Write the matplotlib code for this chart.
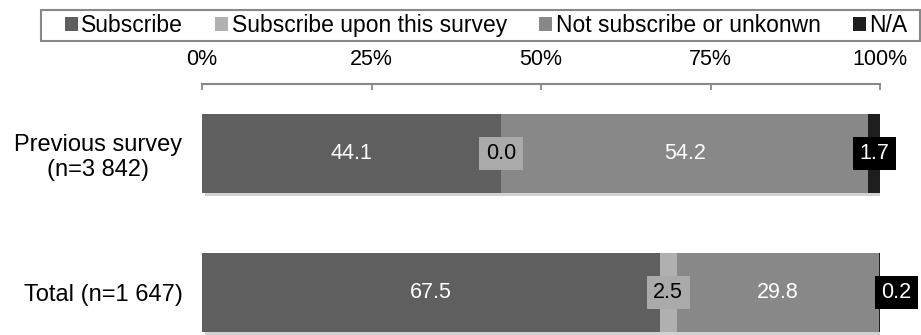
import matplotlib.pyplot as plt
import matplotlib.patheffects as pe
from matplotlib.patches import Rectangle
import numpy as np

plt.rcParams['font.family'] = ['Liberation Sans', 'DejaVu Sans']

groups = ["Total (n=1 647)", "Previous survey\n(n=3 842)"]
series = ["Subscribe", "Subscribe upon this survey", "Not subscribe or unkonwn", "N/A"]
subscribe = [67.5, 44.1]
upon_survey = [2.5, 0.0]
not_subscribe = [29.8, 54.2]
na = [0.2, 1.7]
colors = ["#5f5f5f", "#b0b0b0", "#888888", "#1e1e1e"]

W, H = 921, 335
fig = plt.figure(figsize=(W / 100, H / 100), dpi=100)
ax = fig.add_axes([202 / W, 0, 678 / W, 251 / H])

y = np.arange(len(groups))
left = np.zeros(len(groups))
shadow = [pe.SimplePatchShadow(offset=(2, -2), shadow_rgbFace="#000000", alpha=0.18), pe.Normal()]
fs = 15.5

bars = []
for name, vals, col in zip(series, [subscribe, upon_survey, not_subscribe, na], colors):
    b = ax.barh(y, vals, left=left, height=0.568, color=col, label=name,
                edgecolor="none", path_effects=shadow)
    bars.append(b)
    for i, v in enumerate(vals):
        cx = left[i] + v / 2
        if name == "Subscribe" or name == "Not subscribe or unkonwn":
            ax.text(cx, y[i], f"{v:.1f}", ha="center", va="center", color="white", fontsize=fs)
        elif name == "Subscribe upon this survey":
            ax.text(cx, y[i], f"{v:.1f}", ha="center", va="center", color="black", fontsize=fs,
                    bbox=dict(boxstyle="square,pad=0.3", fc="#aaaaaa", ec="none"))
        else:
            # tiny segment: push the label just past the bar end
            dx = 0 if v >= 1 else 17
            ax.annotate(f"{v:.1f}", xy=(cx, y[i]), xytext=(dx, 0), textcoords="offset pixels",
                        ha="center", va="center", color="white", fontsize=fs,
                        bbox=dict(boxstyle="square,pad=0.3", fc="black", ec="none"))
    left = left + np.array(vals)

ax.set_xlim(0, 100)
ax.set_ylim(-0.306, 1.5)
ax.set_yticks(y)
ax.set_yticklabels(groups, fontsize=17, multialignment="center")
ax.tick_params(axis="y", length=0, pad=14)

ax.xaxis.tick_top()
ax.set_xticks([0, 25, 50, 75, 100])
ax.set_xticklabels(["0%", "25%", "50%", "75%", "100%"], fontsize=15.5)
ax.tick_params(axis="x", direction="in", length=4, width=1.3, color="#888888", pad=10)

for s in ["left", "right", "bottom"]:
    ax.spines[s].set_visible(False)
ax.spines["top"].set_color("#888888")
ax.spines["top"].set_linewidth(1.5)

# legend frame drawn on its own so the entries can sit inset from it
fig.patches.append(Rectangle((41 / W, 1 - 41 / H), 879 / W, 31 / H, transform=fig.transFigure,
                             fill=False, edgecolor="#888888", linewidth=1.5))
leg = fig.legend(handles=bars, labels=series, loc="center left", ncol=4, mode="expand",
                 bbox_to_anchor=(60 / W, 1 - 41 / H, 852 / W, 31 / H),
                 borderaxespad=0, fontsize=16.5, handlelength=0.58, handleheight=0.58,
                 handletextpad=0.15, columnspacing=0.6, borderpad=0.2, frameon=False)
for h in leg.legend_handles:
    h.set_path_effects([])

fig.savefig("out.png", dpi=100)
